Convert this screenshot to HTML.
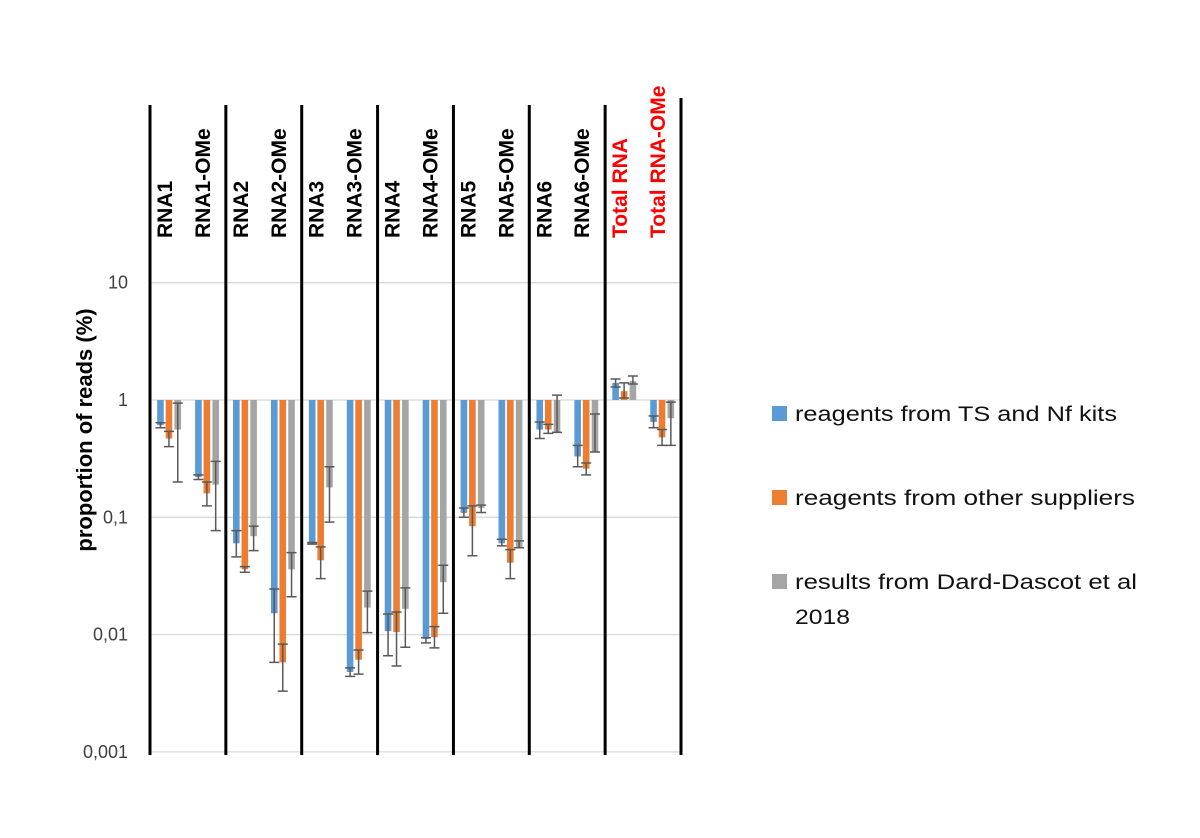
<!DOCTYPE html>
<html><head><meta charset="utf-8"><style>
html,body{margin:0;padding:0;background:#fff;}
svg{display:block;}
</style></head><body>
<svg id="chart" width="1200" height="838" xmlns="http://www.w3.org/2000/svg">
<g id="grid"></g>
<g id="bars"></g>
<g id="errs"></g>
<g id="seps"></g>
<g id="ylabels"></g>
<g id="xlabels"></g>
<text transform="translate(92,430) rotate(-90)" text-anchor="middle" font-family="Liberation Sans, sans-serif" font-weight="bold" font-size="22" fill="#000">proportion of reads (%)</text>
<g font-family="Liberation Sans, sans-serif" font-size="21" fill="#111">
  <rect x="772" y="406" width="15" height="15" fill="#5b9bd5"/>
  <text x="795" y="421" textLength="322" lengthAdjust="spacingAndGlyphs">reagents from TS and Nf kits</text>
  <rect x="772" y="490" width="15" height="15" fill="#ed7d31"/>
  <text x="795" y="505" textLength="340" lengthAdjust="spacingAndGlyphs">reagents from other suppliers</text>
  <rect x="772" y="574" width="15" height="15" fill="#a5a5a5"/>
  <text x="795" y="589" textLength="342" lengthAdjust="spacingAndGlyphs">results from Dard-Dascot et al</text>
  <text x="795" y="624" textLength="55" lengthAdjust="spacingAndGlyphs">2018</text>
</g>
</svg>
<script>
const categories = ["RNA1","RNA1-OMe","RNA2","RNA2-OMe","RNA3","RNA3-OMe","RNA4","RNA4-OMe","RNA5","RNA5-OMe","RNA6","RNA6-OMe","Total RNA","Total RNA-OMe"];
const seriesNames = ["ts-nf","other","dard"];
const tsValues    = [0.61,0.22,0.060,0.0152,0.060,0.0048,0.0107,0.0092,0.109,0.060,0.56,0.33,1.40,0.65];
const tsLow       = [0.58,0.21,0.046,0.0058,0.059,0.0044,0.0066,0.0085,0.100,0.057,0.47,0.27,1.29,0.58];
const tsHigh      = [0.64,0.23,0.077,0.0245,0.061,0.0052,0.015,0.0094,0.120,0.065,0.65,0.41,1.51,0.73];
const otherValues = [0.47,0.16,0.036,0.0058,0.043,0.0061,0.0105,0.0095,0.084,0.041,0.56,0.26,1.19,0.48];
const otherLow    = [0.40,0.125,0.034,0.0033,0.030,0.0046,0.0054,0.0077,0.047,0.030,0.52,0.23,1.04,0.41];
const otherHigh   = [0.54,0.20,0.038,0.0083,0.056,0.0074,0.0156,0.0117,0.125,0.053,0.62,0.29,1.40,0.56];
const dardValues  = [0.56,0.19,0.069,0.036,0.18,0.017,0.0166,0.028,0.12,0.055,0.53,0.36,1.45,0.70];
const dardLow     = [0.20,0.077,0.052,0.021,0.091,0.0104,0.0078,0.0152,0.11,0.055,0.53,0.36,1.37,0.41];
const dardHigh    = [0.94,0.30,0.084,0.050,0.27,0.0235,0.025,0.039,0.127,0.063,1.1,0.76,1.60,0.96];
const yTicks = [10,1,0.1,0.01,0.001];
const yTickLabels = ["10","1","0,1","0,01","0,001"];

const NS="http://www.w3.org/2000/svg";
const X0=150, X1=681, YTOP=105;
const band=(X1-X0)/categories.length;
function y(v){ return 400 - 117.3*Math.log10(v); }
function xc(i){ return X0 + band*(i+0.5); }
function mk(parent,tag,attrs){ const e=document.createElementNS(NS,tag); for(const k in attrs) e.setAttribute(k,attrs[k]); parent.appendChild(e); return e; }

const grid=document.getElementById('grid'), yl=document.getElementById('ylabels');
yTicks.forEach((t,i)=>{
  const g=mk(grid,'line',{x1:X0,x2:X1,y1:y(t),y2:y(t),stroke:'#d9d9d9','stroke-width':1.3});
  
  
  const tx=mk(yl,'text',{x:128,y:y(t)+6,'text-anchor':'end','font-family':'Liberation Sans, sans-serif','font-size':18,fill:'#404040'});
  tx.textContent=yTickLabels[i];
  
  
});

const colors=['#5b9bd5','#ed7d31','#a5a5a5'];
const vals=[tsValues,otherValues,dardValues], lows=[tsLow,otherLow,dardLow], highs=[tsHigh,otherHigh,dardHigh];
const offs=[-8.5,0,8.8], bw=6.6;
const bars=document.getElementById('bars'), errs=document.getElementById('errs');
categories.forEach((c,i)=>{
  for(let s=0;s<3;s++){
    const v=vals[s][i], cx=xc(i)+offs[s];
    const y0=y(1), y1=y(v);
    const r=mk(bars,'rect',{x:cx-bw/2,y:Math.min(y0,y1),width:bw,height:Math.abs(y1-y0),fill:colors[s]});
    
    
    const yl1=y(lows[s][i]), yh=y(highs[s][i]);
    const e=mk(errs,'path',{d:`M${cx},${yl1}V${yh}M${cx-5},${yl1}H${cx+5}M${cx-5},${yh}H${cx+5}`,stroke:'#595959','stroke-width':1.5,fill:'none'});
    
    
  }
  const red=c.startsWith('Total');
  const t=mk(document.getElementById('xlabels'),'text',{transform:`translate(${xc(i)+3},238) rotate(-90)`,'text-anchor':'start','font-family':'Liberation Sans, sans-serif','font-weight':'bold','font-size':21,fill:red?'#ff0000':'#000'});
  t.textContent=c;
  
  
});

const seps=document.getElementById('seps');
for(let k=0;k<=7;k++){
  const x=X0+band*2*k;
  const l=mk(seps,'line',{x1:x,x2:x,y1:(k==7?98:YTOP),y2:755,stroke:'#000','stroke-width':3});
  
  
}
</script>
</body></html>
